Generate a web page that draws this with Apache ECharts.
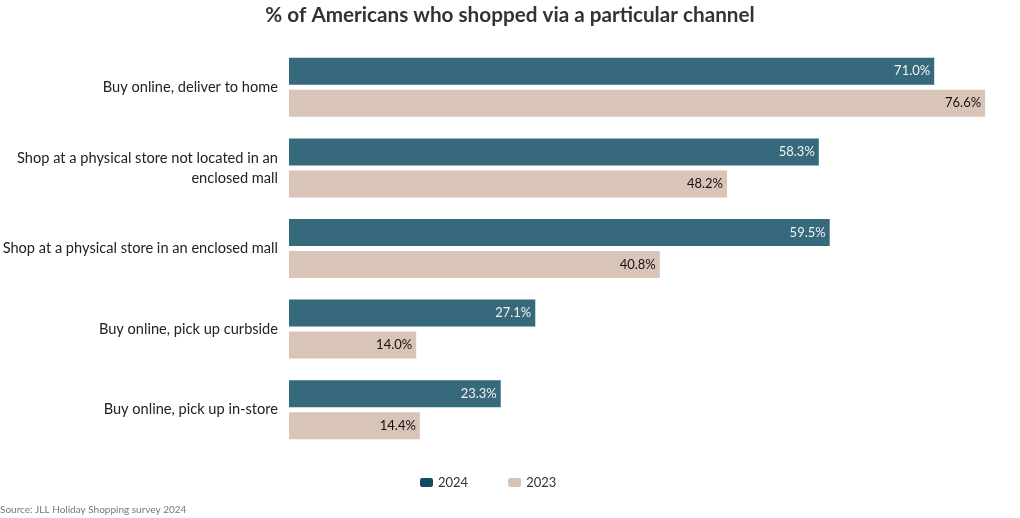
<!DOCTYPE html>
<html><head><meta charset="utf-8">
<script src="https://cdn.jsdelivr.net/npm/echarts@6/dist/echarts.min.js"></script>
<style>html,body{margin:0;padding:0;background:#fff}#c{width:1020px;height:518px}</style>
</head><body><div id="c"></div>
<script>
const categories = [
  "Buy online, deliver to home",
  "Shop at a physical store not located in an enclosed mall",
  "Shop at a physical store in an enclosed mall",
  "Buy online, pick up curbside",
  "Buy online, pick up in-store"
];
const values2024 = [71.0, 58.3, 59.5, 27.1, 23.3];
const values2023 = [76.6, 48.2, 40.8, 14.0, 14.4];
const seriesNames = ["2024", "2023"];

function wrap(s, maxChars) {
  const words = s.split(' ');
  const lines = [];
  let cur = '';
  for (const w of words) {
    const t = cur ? cur + ' ' + w : w;
    if (t.length > maxChars && cur) { lines.push(cur); cur = w; } else { cur = t; }
  }
  if (cur) lines.push(cur);
  return lines.join('\n');
}

const FONT = "Lato";
const chart = echarts.init(document.getElementById('c'));
chart.setOption({
  animation: false,
  textStyle: { fontFamily: FONT },
  title: {
    text: "% of Americans who shopped via a particular channel",
    left: 'center', top: 0,
    textStyle: { fontFamily: FONT, fontSize: 20.7, fontWeight: 'bold', color: '#333' }
  },
  graphic: [{
    type: 'text', left: 0, top: 505,
    style: { text: "Source: JLL Holiday Shopping survey 2024", fontFamily: FONT, fontSize: 10, fill: '#777' }
  }],
  legend: {
    bottom: 24, left: 415, itemGap: 40, icon: 'roundRect', itemWidth: 13, itemHeight: 9,
    textStyle: { fontFamily: FONT, fontSize: 13, color: '#333' },
    data: [
      { name: seriesNames[0], itemStyle: { color: '#104b60' } },
      { name: seriesNames[1], itemStyle: { color: '#d5c3b6' } }
    ]
  },
  grid: { left: 289, right: 4, top: 47, bottom: 68, containLabel: false, outerBoundsMode: 'none' },
  xAxis: { type: 'value', min: 0, max: 80, show: false },
  yAxis: {
    type: 'category', inverse: true, data: categories,
    axisLine: { show: false }, axisTick: { show: false },
    axisLabel: { fontFamily: FONT, fontSize: 14.6, color: '#222', margin: 11, lineHeight: 20,
      formatter: v => wrap(v, 44) }
  },
  series: [
    { name: seriesNames[0], type: 'bar', data: values2024, barWidth: 27, barGap: '18.5%',
      itemStyle: { color: '#35697b' },
      label: { show: true, position: 'insideRight', distance: 4, formatter: p => p.value.toFixed(1) + '%',
        fontFamily: FONT, fontSize: 13, color: '#f2f2f2' } },
    { name: seriesNames[1], type: 'bar', data: values2023, barWidth: 27,
      itemStyle: { color: '#d9c5b8' },
      label: { show: true, position: 'insideRight', distance: 4, formatter: p => p.value.toFixed(1) + '%',
        fontFamily: FONT, fontSize: 13, color: '#111' } }
  ]
});
</script></body></html>
